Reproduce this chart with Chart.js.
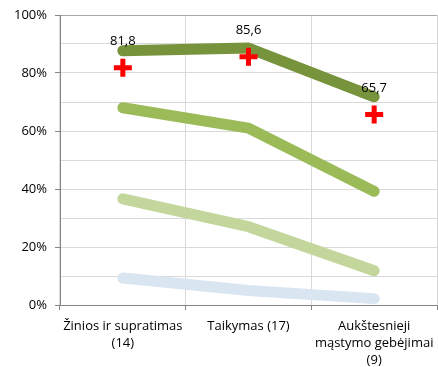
<!DOCTYPE html>
<html><head><meta charset="utf-8">
<script src="https://cdn.jsdelivr.net/npm/chart.js@4/dist/chart.umd.min.js"></script>
<style>html,body{margin:0;padding:0;background:#fff}#wrap{width:438px;height:367px}</style>
</head><body><div id="wrap"><canvas id="c" width="438" height="367"></canvas></div>
<script>
const categories = [["Žinios ir supratimas","(14)"], "Taikymas (17)", ["Aukštesnieji","mąstymo gebėjimai","(9)"]];
const seriesDark = [87.7, 88.6, 71.8];
const seriesMid = [68.0, 61.0, 39.2];
const seriesLight = [36.6, 27.0, 11.8];
const seriesBlue = [9.3, 5.0, 2.2];
const seriesRef = [81.8, 85.6, 65.7];
const yTicks = [0, 20, 40, 60, 80, 100];

const FONT = "'Open Sans', sans-serif";

const labelPlugin = {
  id: 'refLabels',
  afterDatasetsDraw(chart) {
    const ctx = chart.ctx;
    const meta = chart.getDatasetMeta(4);
    ctx.save();
    ctx.font = "13px " + FONT;
    ctx.fillStyle = '#000';
    ctx.textAlign = 'center';
    ctx.textBaseline = 'bottom';
    meta.data.forEach((pt, i) => {
      ctx.fillText(String(seriesRef[i]).replace('.', ','), pt.x, pt.y - 20);
    });
    ctx.restore();
  }
};

const lineDs = (data, color, order) => ({
  data, order, borderColor: color, backgroundColor: color, borderWidth: 11,
  borderCapStyle: 'round', borderJoinStyle: 'round', pointRadius: 0, tension: 0, fill: false
});

new Chart(document.getElementById('c'), {
  type: 'line',
  data: {
    labels: categories,
    datasets: [
      lineDs(seriesBlue, '#DAE5F2', 4),
      lineDs(seriesLight, '#C3D69B', 3),
      lineDs(seriesMid, '#9BBB59', 2),
      lineDs(seriesDark, '#77933C', 1),
      { data: seriesRef, order: 0, showLine: false, pointStyle: 'cross', pointRadius: 9, pointBorderWidth: 5,
        pointBorderColor: '#FF0000', pointBackgroundColor: '#FF0000', borderColor: '#FF0000' }
    ]
  },
  options: {
    responsive: false, animation: false,
    layout: { autoPadding: false, padding: { top: 15, right: 1, left: 0, bottom: 0 } },
    plugins: { legend: { display: false }, tooltip: { enabled: false } },
    scales: {
      x: {
        offset: true,
        grid: { offset: true, color: (c) => (c.index === 3 ? '#A6A6A6' : '#D9D9D9'), lineWidth: 1, tickLength: 5, tickColor: '#868686' },
        border: { color: '#868686', width: 1 },
        ticks: { font: { family: FONT, size: 13, lineHeight: 1.3 }, color: '#000', padding: 8, maxRotation: 0, autoSkip: false },
        afterFit(s) { s.height = 62; s.paddingRight = 0; s.paddingLeft = 0; }
      },
      y: {
        min: 0, max: 100,
        grid: { color: (c) => (c.tick && c.tick.value === 100 ? '#A6A6A6' : '#D9D9D9'), tickLength: 5,
                tickColor: (c) => (c.tick && c.tick.value % 20 === 0 ? '#868686' : 'rgba(0,0,0,0)') },
        border: { color: '#868686', width: 1 },
        ticks: { stepSize: 10, font: { family: FONT, size: 13 }, color: '#000', padding: 8,
                 callback: (v) => (yTicks.includes(v) ? v + '%' : '') },
        afterFit(s) { s.width = 60; s.paddingTop = 0; s.paddingBottom = 0; }
      }
    }
  },
  plugins: [labelPlugin]
});
</script></body></html>
